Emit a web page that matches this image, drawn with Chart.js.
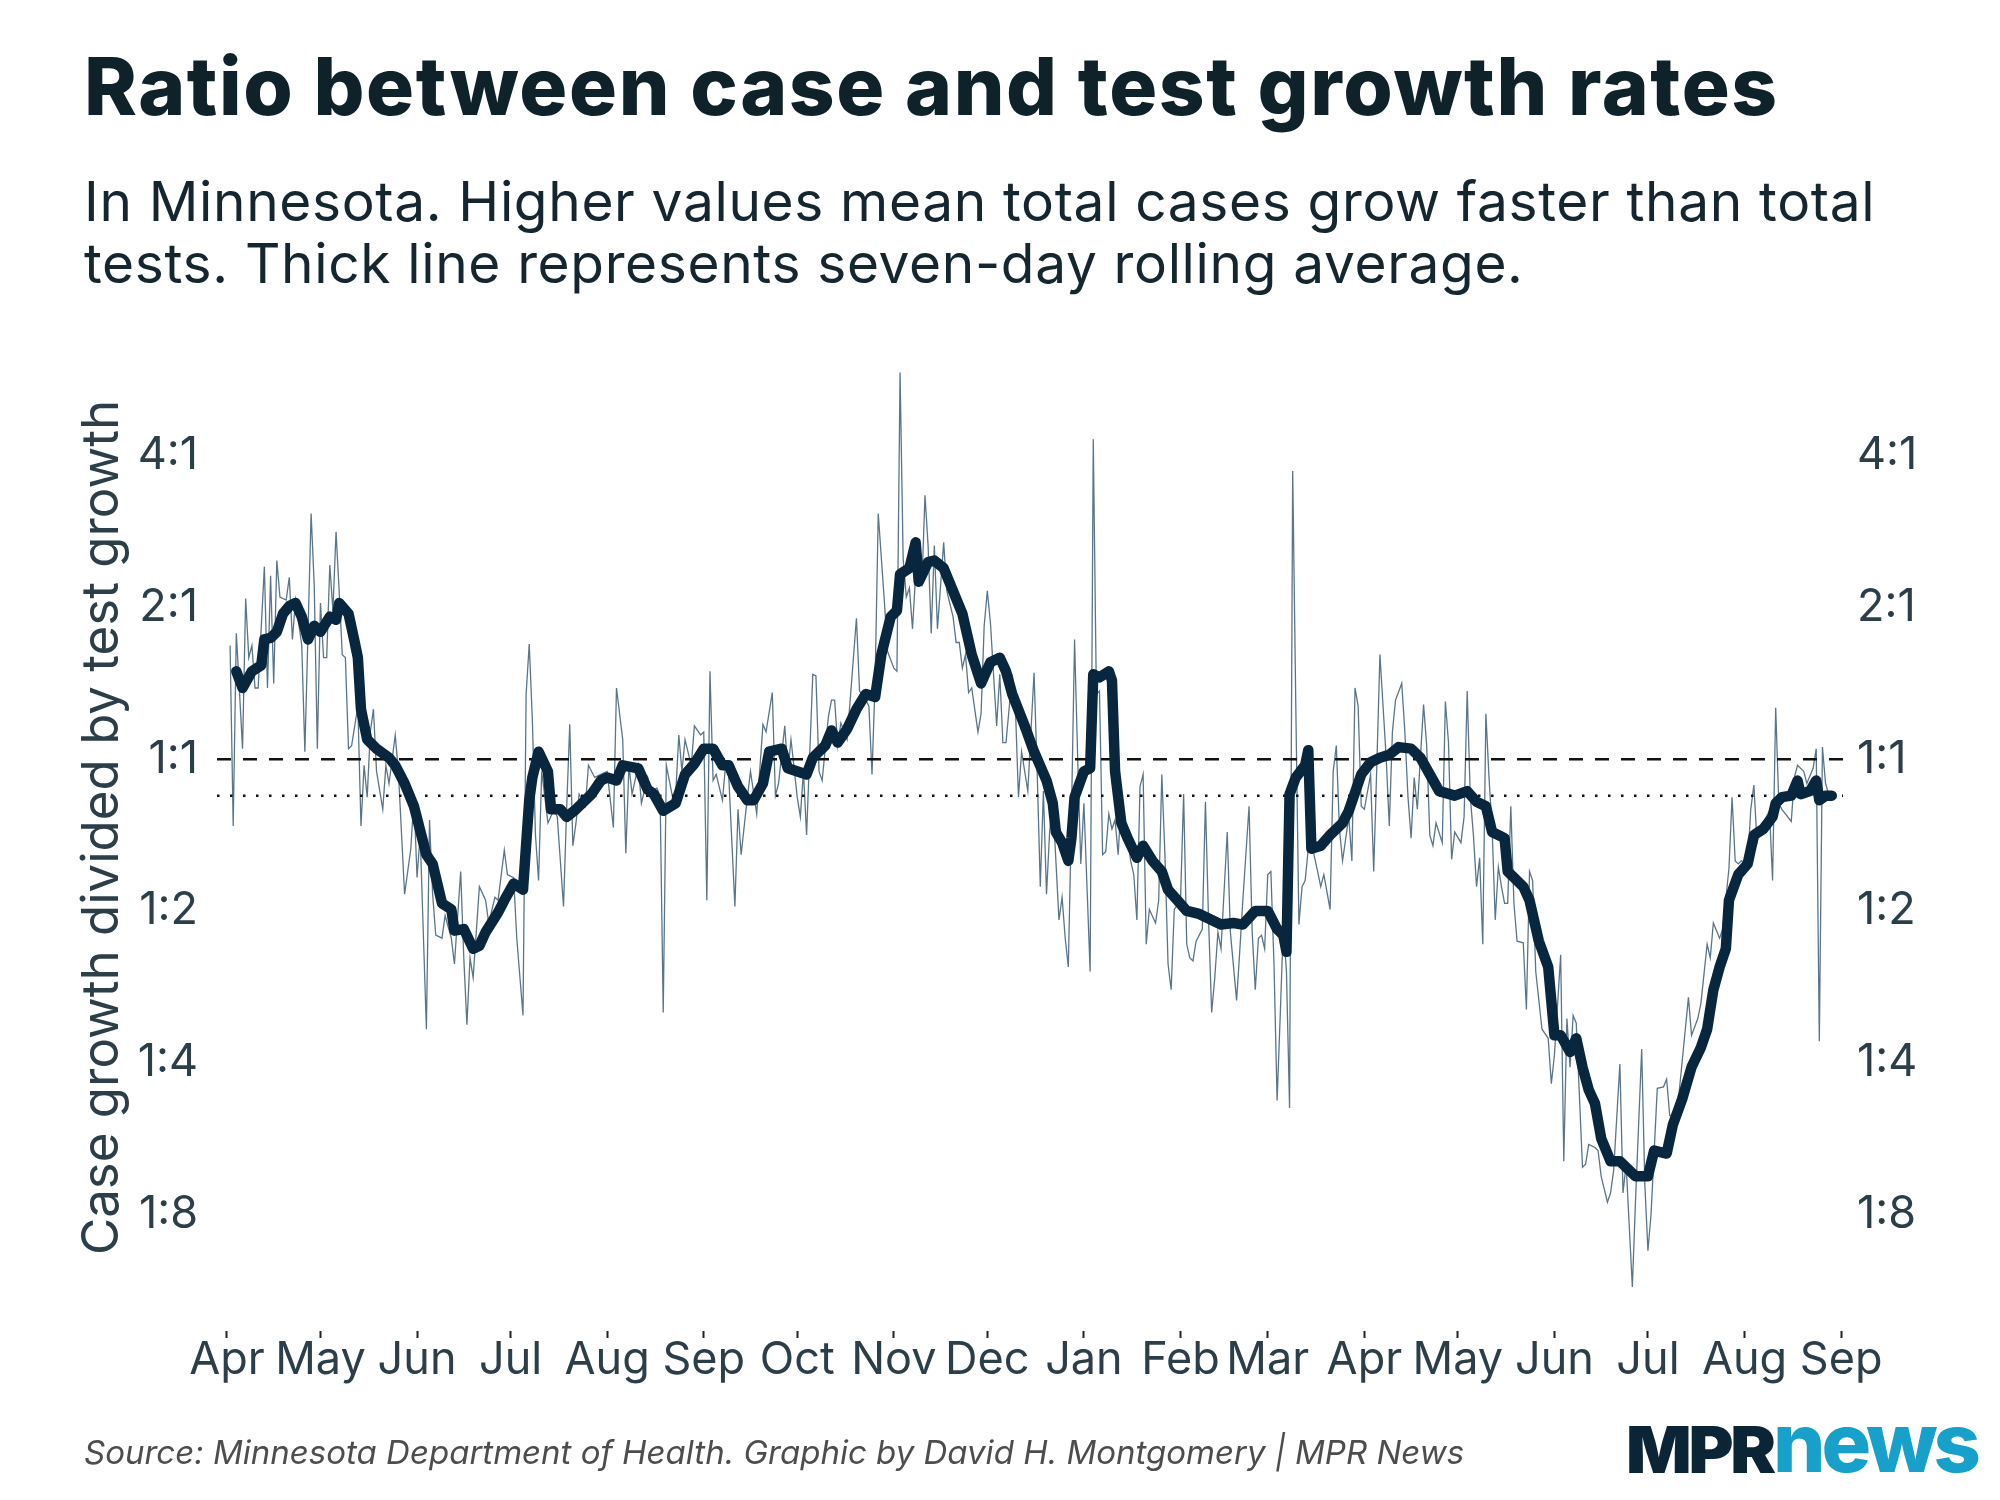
<!DOCTYPE html>
<html lang="en">
  <head>
    <meta charset="UTF-8" />
    <script src="https://cdn.jsdelivr.net/npm/chart.js"></script>
    <title>Ratio between case and test growth rates</title>
    <style>
      body {
        margin: 0;
        width: 2000px;
        height: 1500px;
        background: #fff;
        font-family: Inter, "Noto Sans", sans-serif;
        position: relative;
        overflow: hidden;
      }
      #chart {
        position: absolute;
        left: 0;
        top: 0;
      }
      .title {
        position: absolute;
        left: 84px;
        top: 46px;
        margin: 0;
        font-size: 80px;
        line-height: 80px;
        font-weight: 800;
        letter-spacing: 1.6px;
        color: #0f2129;
        white-space: nowrap;
      }
      .subtitle {
        position: absolute;
        left: 84px;
        top: 170px;
        font-size: 55px;
        line-height: 62px;
        letter-spacing: 0.65px;
        color: #15262f;
        white-space: nowrap;
      }
      .source {
        position: absolute;
        left: 84px;
        top: 1436px;
        font-size: 33px;
        line-height: 33px;
        font-style: italic;
        color: #4d4d4d;
        white-space: nowrap;
      }
      .logo span {
        position: absolute;
        line-height: 1;
        white-space: nowrap;
        transform-origin: left top;
      }
      #mpr {
        left: 1626px;
        top: 1418px;
        font-size: 64px;
        font-weight: 900;
        color: #0b2436;
        letter-spacing: -3px;
      }
      #news {
        left: 1773px;
        top: 1402px;
        font-size: 82px;
        font-weight: 800;
        color: #17a0c9;
        letter-spacing: -4px;
      }
    </style>
  </head>

  <body>
    <canvas id="chart" width="2000" height="1500"></canvas>

    <h1 class="title">Ratio between case and test growth rates</h1>
    <div class="subtitle">
      In Minnesota. Higher values mean total cases grow faster than total<br />tests. Thick line represents seven-day rolling average.
    </div>
    <div class="source">
      Source: Minnesota Department of Health. Graphic by David H. Montgomery | MPR News
    </div>
    <div class="logo"><span id="mpr">MPR</span><span id="news">news</span></div>

    <script>
      // x values are days since April 1, 2020; y values are log2 of the ratio
      const monthDays = [0, 30, 61, 91, 122, 153, 183, 214, 244, 275, 306, 334, 365, 395, 426, 456, 487, 518];
      const monthLabels = ["Apr", "May", "Jun", "Jul", "Aug", "Sep", "Oct", "Nov", "Dec", "Jan", "Feb", "Mar", "Apr", "May", "Jun", "Jul", "Aug", "Sep"];

      const tickValues = [-3, -2, -1, 0, 1, 2];
      const tickLabels = ["1:8", "1:4", "1:2", "1:1", "2:1", "4:1"];

      const evenLine = 0; // 1:1
      const typicalLine = -0.24; // dotted reference

      // daily ratio (log2), read at its peaks and troughs
      const rawDay = [
        1, 2, 3, 5, 6, 7, 8, 9, 10, 12, 13, 14, 15, 16, 17, 19, 20, 21, 22, 24, 25, 27, 28, 29, 30, 31, 32, 33, 34, 35,
        36, 37, 38, 39, 40, 42, 43, 44, 45, 46, 47, 48, 50, 51, 52, 54, 55, 57, 59, 60, 61, 62, 64, 65, 66, 67, 69, 70,
        72, 73, 75, 76, 77, 78, 79, 81, 83, 84, 86, 87, 89, 90, 92, 93, 95, 96, 97, 98, 99, 100, 101, 103, 105, 106,
        108, 109, 110, 111, 112, 113, 115, 116, 118, 120, 122, 124, 125, 127, 128, 129, 130, 132, 133, 135, 136, 138,
        139, 140, 141, 143, 144, 145, 146, 147, 149, 150, 152, 153, 154, 155, 156, 157, 159, 160, 161, 163, 164, 165,
        167, 168, 170, 172, 173, 175, 176, 177, 179, 180, 181, 183, 184, 185, 186, 188, 189, 190, 191, 193, 194, 195,
        196, 197, 199, 200, 202, 203, 205, 206, 207, 208, 209, 211, 212, 214, 215, 216, 217, 218, 219, 220, 221, 223,
        224, 225, 226, 227, 228, 230, 231, 233, 234, 235, 236, 237, 238, 239, 241, 242, 243, 244, 245, 247, 248, 249,
        250, 252, 253, 254, 255, 256, 257, 259, 260, 261, 262, 263, 264, 265, 267, 268, 269, 270, 271, 272, 273, 274,
        275, 277, 278, 279, 280, 281, 282, 283, 284, 285, 286, 287, 289, 290, 291, 292, 293, 294, 295, 296, 298, 299,
        300, 301, 302, 303, 304, 306, 307, 308, 309, 310, 311, 313, 314, 315, 316, 317, 318, 319, 321, 322, 324, 325,
        326, 328, 329, 330, 331, 332, 333, 334, 335, 336, 337, 338, 339, 340, 341, 342, 343, 344, 345, 346, 347, 348,
        350, 351, 352, 354, 355, 356, 357, 358, 360, 361, 362, 363, 364, 365, 367, 368, 369, 370, 371, 372, 373, 374,
        375, 377, 378, 379, 380, 381, 382, 384, 385, 386, 387, 388, 390, 391, 392, 393, 394, 396, 397, 398, 399, 400,
        401, 402, 403, 404, 405, 406, 407, 408, 409, 410, 411, 412, 413, 414, 416, 417, 418, 419, 420, 422, 424, 425,
        426, 428, 429, 430, 431, 432, 433, 435, 436, 437, 439, 440, 441, 443, 444, 445, 447, 448, 449, 451, 452, 454,
        455, 456, 457, 459, 461, 462, 463, 464, 466, 467, 469, 470, 472, 473, 475, 476, 477, 479, 480, 482, 483, 484,
        485, 486, 488, 489, 490, 491, 492, 494, 495, 496, 497, 498, 499, 502, 503, 504, 506, 507, 509, 510, 511, 512,
        513, 514,
      ];
      const rawVal = [
        0.75, -0.44, 0.83, 0.07, 1.06, 0.67, 0.75, 0.47, 0.47, 1.27, 0.47, 1.21, 0.5, 1.31, 1.07, 1.05, 1.2, 0.79, 1.05,
        0.75, 0.05, 1.62, 1.15, 0.07, 1.03, 0.67, 0.67, 1.28, 0.98, 1.5, 1.11, 0.69, 0.67, 0.07, 0.09, 0.35, -0.44,
        -0.04, -0.25, 0.18, 0.33, -0.08, -0.33, -0.04, -0.16, 0.16, -0.08, -0.89, -0.59, -0.25, -0.78, -0.5, -1.78,
        -0.4, -0.89, -1.16, -1.18, -1.03, -1.18, -1.35, -0.74, -1.31, -1.75, -1.31, -1.44, -0.84, -0.93, -1.08, -0.91,
        -0.93, -0.6, -0.76, -0.78, -1.18, -1.69, 0.43, 0.76, 0.26, -0.5, -0.8, -0.08, -0.42, -0.33, -0.38, -0.97, -0.33,
        0.23, -0.57, -0.42, -0.23, -0.31, -0.04, -0.12, -0.1, -0.08, -0.45, 0.47, 0.13, -0.62, -0.04, -0.23, -0.04,
        -0.29, -0.12, -0.21, -0.19, -0.25, -1.67, -0.04, -0.25, -0.23, 0.16, -0.08, 0.13, -0.04, 0.22, 0.16, 0.18,
        -0.93, 0.58, -0.14, -0.1, -0.27, -0.04, -0.1, -0.97, -0.33, -0.63, -0.25, -0.08, -0.36, 0.23, 0.18, 0.44,
        -0.24, -0.16, 0.22, -0.08, 0.13, -0.25, -0.38, -0.08, -0.5, 0.56, 0.55, -0.08, -0.14, 0.28, 0.39, 0.39, 0.09,
        0.24, 0.13, 0.39, 0.93, 0.45, 0.39, 0.35, -0.1, 0.52, 1.62, 1.03, 0.71, 0.6, 0.58, 2.55, 1.32, 1.07, 1.13, 0.86,
        1.22, 1.15, 1.74, 1.41, 0.83, 1.41, 0.86, 1.43, 1.11, 0.94, 0.77, 0.77, 0.6, 0.69, 0.44, 0.47, 0.18, 0.3, 0.88,
        1.11, 0.9, 0.22, 0.56, 0.11, 0.11, 0.56, 0.35, -0.25, 0.05, -0.08, -0.21, 0.57, -0.08, -0.84, -0.21, -0.89,
        -0.48, -0.27, -1.06, -0.91, -1.18, -1.37, -0.38, 0.79, 0.01, -0.69, -0.29, -1.4, 2.11, 0.43, 0.45, -0.63, -0.61,
        -0.36, -0.46, -0.4, -0.63, -0.25, -0.5, -0.67, -0.76, -1.06, -0.18, -0.1, -1.22, -0.99, -1.08, -0.93, -0.1,
        -0.63, -1.35, -1.52, -0.99, -0.93, -0.23, -1.22, -1.31, -1.33, -1.2, -1.12, -0.28, -1.06, -1.67, -1.44, -1.14,
        -1.25, -0.48, -1.14, -1.59, -1.27, -0.93, -0.31, -1.14, -1.52, -1.18, -1.16, -1.25, -0.76, -0.74, -1.35, -2.25,
        -1.69, -1.1, -1.4, -2.3, 1.9, 0.35, -1.09, -0.84, -0.8, -0.59, -0.55, -0.74, -0.84, -0.76, -0.99, -0.08, 0.09,
        -0.46, -0.67, -0.38, -0.67, 0.47, 0.35, -0.31, -0.33, -0.1, -0.74, -0.04, 0.69, 0.35, 0.01, -0.44, 0.18, 0.39,
        0.5, 0.18, -0.25, -0.52, -0.12, -0.33, 0.36, 0.09, -0.5, -0.57, -0.42, -0.55, 0.38, 0.11, -0.66, -0.48, -0.55,
        -0.38, 0.45, -0.25, -0.5, -0.84, -0.65, -1.22, 0.3, -0.12, -0.46, -1.06, -0.71, -0.84, -0.95, -0.95, -0.31,
        -0.95, -1.2, -1.21, -1.65, -0.74, -0.8, -1.4, -1.78, -1.84, -2.14, -1.95, -1.29, -2.65, -1.71, -2.03, -1.69,
        -1.74, -2.69, -2.67, -2.54, -2.56, -2.58, -2.75, -2.92, -2.86, -2.71, -2.01, -2.86, -2.67, -3.48, -2.92, -1.91,
        -2.8, -3.24, -3.0, -2.17, -2.16, -2.11, -2.35, -2.35, -2.2, -1.99, -1.57, -1.82, -1.71, -1.61, -1.22, -1.31,
        -1.08, -1.18, -1.12, -0.72, -0.25, -0.67, -0.69, -0.67, -0.69, -0.33, -0.17, -0.55, -0.46, -0.38, -0.34, -0.8,
        0.34, -0.29, -0.33, -0.41, -0.12, -0.04, -0.08, -0.16, -0.06, 0.07, -1.86, 0.08, -0.16, -0.23,
      ];

      // seven-day rolling average (log2)
      const avgDay = [
        3, 5, 8, 11, 12, 14, 16, 18, 20, 22, 24, 26, 28, 30, 33, 35, 36, 39, 41, 42, 43, 45, 48, 52, 54, 57, 60, 64, 66,
        69, 72, 73, 76, 79, 81, 83, 87, 89, 92, 95, 97, 98, 100, 103, 104, 107, 109, 112, 114, 117, 120, 122, 125, 127,
        132, 135, 137, 140, 144, 147, 150, 153, 156, 159, 161, 164, 167, 169, 172, 174, 178, 180, 186, 188, 192, 194,
        196, 199, 202, 205, 208, 210, 213, 215, 216, 219, 221, 222, 225, 227, 230, 233, 236, 239, 242, 245, 248, 250,
        252, 256, 259, 263, 265, 266, 268, 270, 271, 272, 275, 277, 278, 280, 283, 284, 285, 287, 289, 292, 294, 297,
        300, 302, 305, 308, 312, 316, 319, 323, 326, 330, 334, 337, 339, 340, 341, 343, 346, 347, 348, 351, 354, 358,
        360, 364, 367, 370, 373, 376, 380, 383, 386, 389, 394, 398, 401, 404, 406, 410, 411, 413, 416, 418, 421, 424,
        426, 428, 431, 433, 435, 437, 439, 441, 444, 447, 449, 452, 456, 458, 462, 464, 467, 470, 473, 475, 477, 479,
        481, 482, 485, 488, 490, 493, 496, 497, 499, 502, 504, 505, 508, 510, 511, 513, 515,
      ];
      const avgVal = [
        0.58, 0.47, 0.58, 0.62, 0.79, 0.8, 0.84, 0.96, 1.01, 1.03, 0.94, 0.79, 0.88, 0.84, 0.94, 0.92, 1.03, 0.96, 0.77,
        0.67, 0.33, 0.13, 0.07, 0.01, -0.04, -0.16, -0.31, -0.63, -0.69, -0.95, -0.99, -1.13, -1.12, -1.25, -1.23,
        -1.14, -1.01, -0.93, -0.82, -0.86, -0.27, -0.12, 0.05, -0.08, -0.33, -0.33, -0.38, -0.33, -0.29, -0.23, -0.14,
        -0.12, -0.14, -0.04, -0.06, -0.2, -0.23, -0.34, -0.29, -0.1, -0.03, 0.07, 0.07, -0.04, -0.04, -0.18, -0.27,
        -0.27, -0.16, 0.05, 0.07, -0.06, -0.1, 0.01, 0.09, 0.19, 0.11, 0.2, 0.33, 0.43, 0.41, 0.69, 0.94, 0.98, 1.22,
        1.26, 1.43, 1.17, 1.3, 1.31, 1.26, 1.11, 0.96, 0.69, 0.5, 0.64, 0.67, 0.58, 0.43, 0.22, 0.05, -0.14, -0.29,
        -0.48, -0.55, -0.67, -0.52, -0.25, -0.08, -0.06, 0.56, 0.54, 0.58, 0.52, -0.08, -0.42, -0.52, -0.65, -0.57,
        -0.67, -0.74, -0.86, -0.93, -1.0, -1.02, -1.06, -1.09, -1.08, -1.09, -1.0, -1.0, -1.12, -1.16, -1.27, -0.23,
        -0.12, -0.04, 0.06, -0.59, -0.57, -0.5, -0.42, -0.34, -0.1, -0.02, 0.01, 0.03, 0.08, 0.07, 0.01, -0.1, -0.21,
        -0.24, -0.21, -0.28, -0.31, -0.48, -0.52, -0.74, -0.78, -0.84, -0.93, -1.2, -1.37, -1.82, -1.82, -1.93, -1.84,
        -2.03, -2.18, -2.27, -2.5, -2.65, -2.65, -2.69, -2.75, -2.75, -2.58, -2.6, -2.41, -2.24, -2.03, -1.9, -1.78,
        -1.52, -1.37, -1.25, -0.93, -0.76, -0.69, -0.5, -0.46, -0.38, -0.29, -0.25, -0.24, -0.14, -0.23, -0.21, -0.14,
        -0.27, -0.24, -0.24,
      ];

      const xMin = -3.2;
      const xMax = 518.6;
      const yMin = -3.77;
      const yMax = 2.87;

      const tickColor = "#2c3e48";
      const labelFont = { family: "Inter", size: 45, lineHeight: 1 };

      const toPoints = (xs, ys) => xs.map((x, i) => ({ x: x, y: ys[i] }));

      const ctx = document.getElementById("chart");

      const chart = new Chart(ctx, {
        type: "line",
        data: {
          datasets: [
            {
              // thick rolling average, drawn on top
              data: toPoints(avgDay, avgVal),
              borderColor: "#08263e",
              borderWidth: 10.5,
              borderCapStyle: "round",
              borderJoinStyle: "round",
              pointRadius: 0,
              order: 0,
            },
            {
              data: [
                { x: xMin, y: evenLine },
                { x: xMax, y: evenLine },
              ],
              borderColor: "#111",
              borderWidth: 2.5,
              borderDash: [14, 12],
              pointRadius: 0,
              order: 1,
            },
            {
              data: [
                { x: xMin, y: typicalLine },
                { x: xMax, y: typicalLine },
              ],
              borderColor: "#111",
              borderWidth: 2.5,
              borderDash: [2.5, 10.5],
              pointRadius: 0,
              order: 1,
            },
            {
              // daily values, thin line underneath
              data: toPoints(rawDay, rawVal),
              borderColor: "#5a758a",
              borderWidth: 1.3,
              pointRadius: 0,
              order: 2,
            },
          ],
        },
        options: {
          responsive: false,
          animation: false,
          layout: { padding: { left: 0, right: 57, top: 324, bottom: 89 } },
          plugins: {
            legend: { display: false },
            tooltip: { enabled: false },
          },
          scales: {
            x: {
              type: "linear",
              min: xMin,
              max: xMax,
              afterBuildTicks: (s) => {
                s.ticks = monthDays.map((v) => ({ value: v }));
              },
              afterFit: (s) => {
                s.height = 80;
              },
              ticks: {
                autoSkip: false,
                maxRotation: 0,
                padding: 0,
                color: tickColor,
                font: labelFont,
                callback: (v, i) => monthLabels[i],
              },
              grid: {
                drawOnChartArea: false,
                drawTicks: true,
                tickLength: 7,
                tickColor: "#222",
                tickWidth: 2,
              },
              border: { display: false },
            },
            y: {
              type: "linear",
              position: "left",
              min: yMin,
              max: yMax,
              afterBuildTicks: (s) => {
                s.ticks = tickValues.map((v) => ({ value: v }));
              },
              afterFit: (s) => {
                s.width = 217;
              },
              ticks: {
                padding: 19,
                color: tickColor,
                font: labelFont,
                callback: (v, i) => tickLabels[i],
              },
              grid: { display: false, drawTicks: false },
              border: { display: false },
              title: {
                display: true,
                text: "Case growth divided by test growth",
                color: tickColor,
                font: { family: "Inter", size: 51, lineHeight: 1 },
                padding: { top: 77, bottom: 0 },
              },
            },
            y2: {
              type: "linear",
              position: "right",
              min: yMin,
              max: yMax,
              afterBuildTicks: (s) => {
                s.ticks = tickValues.map((v) => ({ value: v }));
              },
              afterFit: (s) => {
                s.width = 100;
              },
              ticks: {
                padding: 14,
                color: tickColor,
                font: labelFont,
                callback: (v, i) => tickLabels[i],
              },
              grid: { display: false, drawTicks: false },
              border: { display: false },
            },
          },
        },
      });

      // squeeze the logo words into the width they take in the original
      const fitWidth = (el, w) => {
        const cur = el.getBoundingClientRect().width;
        el.style.transform = "scaleX(" + w / cur + ")";
      };
      fitWidth(document.getElementById("mpr"), 147);
      fitWidth(document.getElementById("news"), 204);
    </script>
  </body>
</html>
